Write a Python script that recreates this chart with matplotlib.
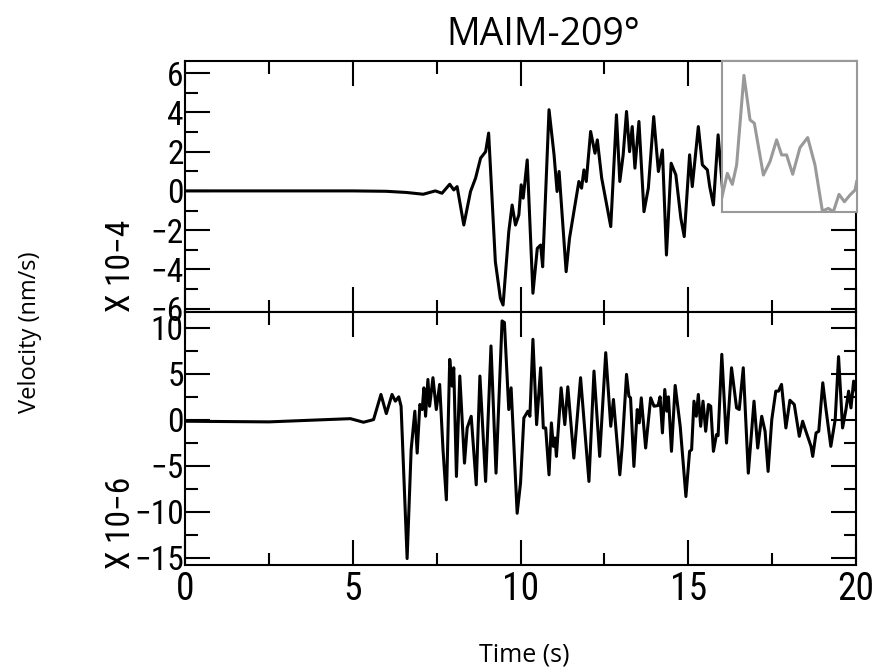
import matplotlib
matplotlib.use('Agg')
import matplotlib.pyplot as plt
from matplotlib import font_manager
from matplotlib.font_manager import FontProperties
from matplotlib.ticker import MultipleLocator

# values
# top trace, units of 1e-4 nm/s
top_t = [0.0, 5.0, 6.0, 6.6, 7.1, 7.46, 7.66, 7.89, 8.01, 8.11,
         8.31, 8.51, 8.66, 8.81, 8.96, 9.05, 9.25, 9.40, 9.48, 9.65,
         9.75, 9.85, 9.95, 10.02, 10.08, 10.2, 10.37, 10.5, 10.6, 10.66,
         10.85, 11.0, 11.09, 11.15, 11.36, 11.46, 11.64, 11.74, 11.82, 11.89,
         11.96, 12.09, 12.22, 12.29, 12.42, 12.56, 12.69, 12.86, 12.96, 13.06,
         13.16, 13.25, 13.33, 13.41, 13.53, 13.68, 13.81, 13.97, 14.11, 14.23,
         14.35, 14.49, 14.63, 14.78, 14.88, 15.04, 15.12, 15.3, 15.42, 15.57,
         15.64, 15.75, 15.89, 16.05]
top_v = [0.0, 0.0, -0.02, -0.08, -0.17, 0.0, -0.12, 0.34, 0.05, 0.22,
         -1.74, -0.03, 0.65, 1.67, 2.0, 2.95, -3.61, -5.48, -5.82, -2.08,
         -0.72, -1.74, -1.23, 0.31, -0.37, 1.58, -5.22, -2.93, -2.76, -3.87,
         4.14, 1.84, -0.03, 0.99, -4.12, -2.42, -0.55, 0.48, 0.14, 1.07,
         0.48, 3.03, 1.92, 2.6, 0.65, -0.63, -1.82, 3.88, 0.48, 1.84,
         4.05, 2.0, 3.28, 1.16, 3.54, -1.06, 0.14, 3.79, 0.99, 2.09,
         -3.27, 1.41, 0.82, -1.4, -2.33, 1.84, 0.22, 3.28, 1.33, 1.07,
         0.22, -0.72, 2.86, -0.5]

# bottom trace, units of 1e-6 nm/s
bot_t = [0.0, 2.5, 4.93, 5.32, 5.62, 5.84, 6.0, 6.17, 6.27, 6.37,
         6.44, 6.62, 6.74, 6.85, 6.92, 7.0, 7.07, 7.12, 7.17, 7.24,
         7.29, 7.39, 7.49, 7.59, 7.69, 7.79, 7.89, 7.96, 8.01, 8.09,
         8.19, 8.33, 8.41, 8.53, 8.68, 8.79, 8.96, 9.12, 9.27, 9.45,
         9.52, 9.65, 9.72, 9.9, 10.0, 10.1, 10.22, 10.28, 10.37, 10.48,
         10.6, 10.68, 10.75, 10.85, 10.92, 10.98, 11.03, 11.07, 11.21, 11.32,
         11.41, 11.59, 11.79, 12.04, 12.19, 12.36, 12.54, 12.69, 12.77, 12.96,
         13.03, 13.16, 13.23, 13.28, 13.38, 13.48, 13.54, 13.6, 13.73, 13.88,
         13.98, 14.1, 14.16, 14.23, 14.3, 14.36, 14.41, 14.5, 14.61, 14.76,
         14.93, 15.04, 15.1, 15.17, 15.24, 15.3, 15.37, 15.44, 15.52, 15.6,
         15.67, 15.75, 15.84, 15.89, 16.0, 16.14, 16.29, 16.44, 16.52, 16.64,
         16.79, 16.96, 17.07, 17.19, 17.29, 17.38, 17.49, 17.61, 17.69, 17.78,
         17.91, 18.03, 18.16, 18.31, 18.41, 18.49, 18.61, 18.66, 18.71, 18.81,
         18.89, 19.01, 19.1, 19.25, 19.38, 19.48, 19.6, 19.7, 19.78, 19.85,
         19.93, 20.0]
bot_v = [-0.18, -0.25, 0.1, -0.29, 0.0, 2.73, 0.65, 2.73, 2.0, 2.47,
         1.45, -15.1, -3.27, 0.91, -3.64, 1.64, 1.09, 3.45, 0.36, 4.36,
         1.45, 4.55, 1.09, 3.82, -3.27, -8.72, 6.54, 3.64, 5.63, -6.18,
         4.73, -4.73, -0.91, 0.36, -7.09, 4.73, -6.72, 8.0, -5.82, 10.72,
         10.54, 1.09, 3.45, -10.18, -6.91, 0.18, 0.91, 0.36, 8.72, -0.55,
         5.63, -0.91, -0.91, -6.0, -0.36, -2.91, -2.0, -4.0, 3.45, -0.55,
         3.56, -4.18, 4.55, -6.72, 5.27, -4.0, 7.27, -0.73, 2.18, -6.0,
         -2.91, 4.91, 2.55, 2.36, -5.09, 1.09, -0.36, 2.36, -3.09, 2.36,
         1.45, 1.53, 2.47, -1.45, 3.27, 0.91, 2.47, -3.45, 3.71, -0.73,
         -8.36, -3.45, -3.27, 2.0, 0.36, 2.73, -0.73, 2.0, -1.27, 1.64,
         1.45, -3.45, -1.64, -1.75, 7.09, -2.55, 5.63, 1.27, 1.09, 5.63,
         -5.82, 2.0, -3.09, 0.36, -1.27, -5.63, 0.0, 3.09, 3.09, 3.82,
         -0.91, 2.1, 1.64, -1.82, -0.18, -1.09, -2.36, -2.91, -4.0, -1.45,
         -1.27, 4.0, 1.27, -2.91, 0.0, 6.84, -0.91, 1.09, 3.09, 1.27,
         4.18, 3.09]

# grey inset trace (no axes shown, normalised box coords)
inset_x = [0.0, 0.042, 0.079, 0.111, 0.165, 0.21, 0.242, 0.309, 0.358, 0.407,
           0.444, 0.481, 0.526, 0.58, 0.637, 0.691, 0.746, 0.79, 0.827, 0.869,
           0.909, 0.951, 0.988, 1.0]
inset_y = [0.088, 0.254, 0.181, 0.31, 0.903, 0.608, 0.586, 0.243, 0.332, 0.476,
           0.376, 0.376, 0.248, 0.425, 0.491, 0.31, 0.004, 0.022, 0.0, 0.115,
           0.066, 0.111, 0.144, 0.2]

title = 'MAIM-209°'
xlabel = 'Time (s)'
ylabel = 'Velocity (nm/s)'
top_scale = 'X 10\u22124'
bot_scale = 'X 10\u22126'


def find_narrow():
    '''returns the file of a narrow / condensed regular font, if there is one'''
    fonts = font_manager.fontManager.ttflist
    wanted = ['Liberation Sans Narrow', 'Roboto Condensed', 'Open Sans Condensed',
              'Noto Sans Condensed', 'DejaVu Sans Condensed']
    for name in wanted:
        for f in fonts:
            if f.name == name and f.style == 'normal' and f.weight in (400, 'normal', 'regular'):
                return f.fname
    for f in fonts:
        if (f.stretch in ('condensed', 'semi-condensed', 'extra-condensed')
                and f.style == 'normal' and f.weight in (400, 'normal', 'regular')):
            return f.fname
    return None


narrow_file = find_narrow()


def tick_fp(size):
    if narrow_file:
        return FontProperties(fname=narrow_file, size=size)
    return FontProperties(family='DejaVu Sans', size=size)


names = {f.name for f in font_manager.fontManager.ttflist}
label_family = 'Open Sans' if 'Open Sans' in names else 'DejaVu Sans'

fig = plt.figure(figsize=(8.74, 6.70), dpi=100)
ax1 = fig.add_axes([0.2117, 0.5345, 0.7677, 0.3749])
ax2 = fig.add_axes([0.2117, 0.1567, 0.7677, 0.3778])

ax1.plot(top_t, top_v, color='black', lw=2.2, solid_joinstyle='round')
ax2.plot(bot_t, bot_v, color='black', lw=2.2, solid_joinstyle='round')

ax1.set_ylim(-6.17, 6.64)
ax2.set_ylim(-15.8, 11.7)
ax1.yaxis.set_major_locator(MultipleLocator(2))
ax1.yaxis.set_minor_locator(MultipleLocator(1))
ax2.yaxis.set_major_locator(MultipleLocator(5))
ax2.yaxis.set_minor_locator(MultipleLocator(2.5))

for ax in (ax1, ax2):
    ax.set_xlim(0, 20)
    ax.xaxis.set_major_locator(MultipleLocator(5))
    ax.xaxis.set_minor_locator(MultipleLocator(2.5))
    ax.tick_params(which='both', direction='in', top=True, right=True,
                   width=1.5, color='black')
    ax.tick_params(which='major', length=18)
    ax.tick_params(which='minor', length=9)
    ax.tick_params(axis='y', pad=1)
    ax.tick_params(axis='x', pad=4)
    for s in ax.spines.values():
        s.set_linewidth(1.5)
    for lab in ax.get_yticklabels():
        lab.set_fontproperties(tick_fp(24))
    for lab in ax.get_xticklabels():
        lab.set_fontproperties(tick_fp(27))

ax1.tick_params(axis='x', labelbottom=False)

# grey inset box in upper right corner
axi = fig.add_axes([0.8257, 0.684, 0.1545, 0.2254])
axi.plot(inset_x, inset_y, color='#999999', lw=2.2, solid_joinstyle='round')
axi.set_xlim(0, 1)
axi.set_ylim(0, 1)
axi.set_xticks([])
axi.set_yticks([])
axi.set_facecolor('white')
for s in axi.spines.values():
    s.set_color('#999999')
    s.set_linewidth(1.5)

fig.text(0.622, 0.948, title, ha='center', va='center', fontsize=27,
         family=label_family)
fig.text(0.6, 0.022, xlabel, ha='center', va='center', fontsize=18,
         family=label_family)
fig.text(0.034, 0.504, ylabel, ha='center', va='center', rotation=90,
         fontsize=17, family=label_family)
fig.text(0.138, 0.603, top_scale, ha='center', va='center', rotation=90,
         fontproperties=tick_fp(24))
fig.text(0.138, 0.22, bot_scale, ha='center', va='center', rotation=90,
         fontproperties=tick_fp(24))

fig.savefig('out.png', dpi=100)
